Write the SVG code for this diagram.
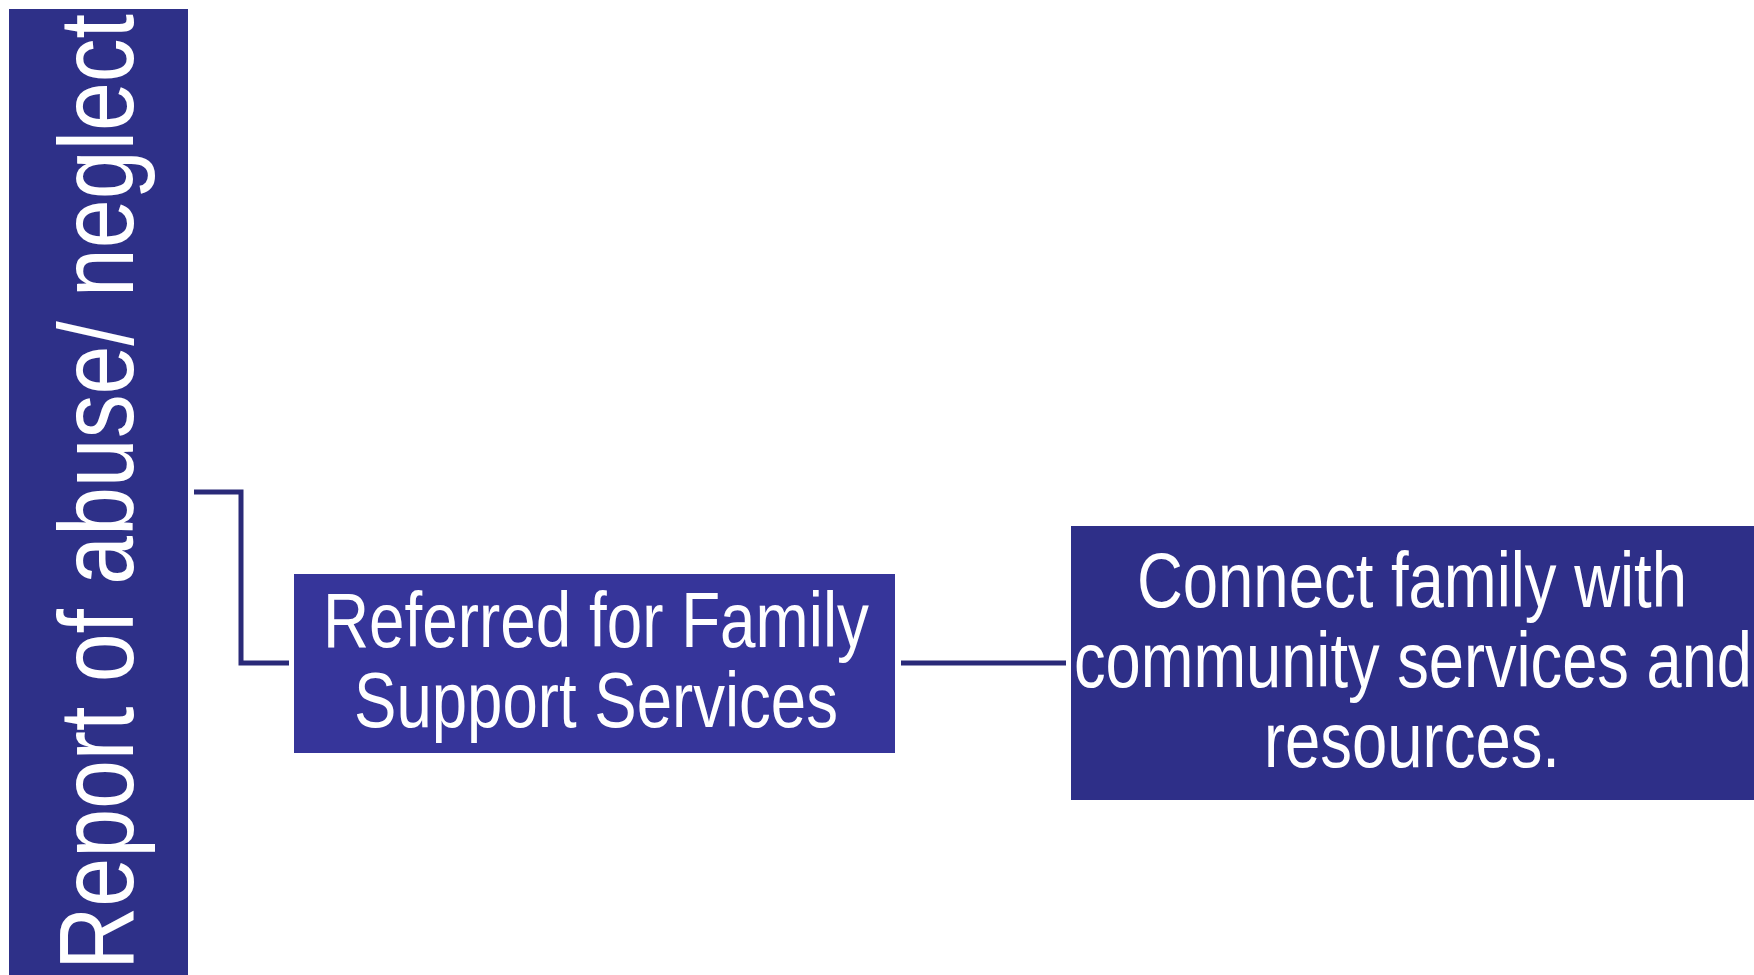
<svg xmlns="http://www.w3.org/2000/svg" width="1754" height="975" viewBox="0 0 1754 975">
<style>
.t{font-family:"Liberation Sans",Arial,sans-serif;fill:#ffffff}
.c{fill:none;stroke:#2A2A78;stroke-width:5}
</style>
<rect width="1754" height="975" fill="#ffffff"/>
<g id="connectors">
<polyline class="c" points="194,492 241,492 241,663 289,663"/>
<line class="c" x1="901" y1="663" x2="1066" y2="663"/>
</g>
<g id="report">
<rect x="9" y="9" width="179" height="966" fill="#2E3088"/>
<text class="t" transform="translate(133,970) rotate(-90)" font-size="106" textLength="956" lengthAdjust="spacingAndGlyphs">Report of abuse/ neglect</text>
</g>
<g id="referred">
<rect x="294" y="574" width="601" height="179" fill="#36359A"/>
<text class="t" x="596" y="647" font-size="77" text-anchor="middle" textLength="546" lengthAdjust="spacingAndGlyphs">Referred for Family</text>
<text class="t" x="596" y="727" font-size="77" text-anchor="middle" textLength="484" lengthAdjust="spacingAndGlyphs">Support Services</text>
</g>
<g id="connect">
<rect x="1071" y="526" width="683" height="274" fill="#2E2F88"/>
<text class="t" x="1412" y="607" font-size="77" text-anchor="middle" textLength="550" lengthAdjust="spacingAndGlyphs">Connect family with</text>
<text class="t" x="1413" y="687" font-size="77" text-anchor="middle" textLength="678" lengthAdjust="spacingAndGlyphs">community services and</text>
<text class="t" x="1412" y="767" font-size="77" text-anchor="middle" textLength="296" lengthAdjust="spacingAndGlyphs">resources.</text>
</g>
</svg>
